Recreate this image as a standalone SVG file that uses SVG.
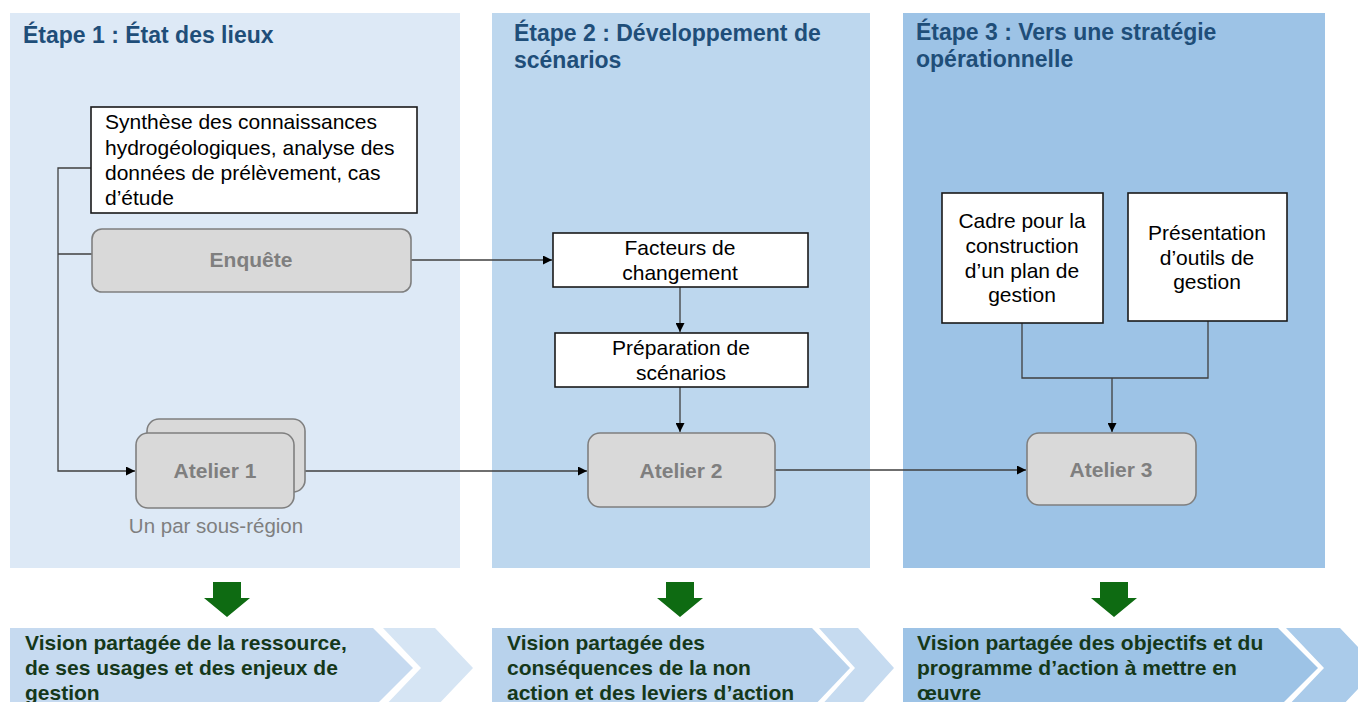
<svg xmlns="http://www.w3.org/2000/svg" width="1358" height="702" viewBox="0 0 1358 702">
<defs>
<style>
text{font-family:"Liberation Sans",Arial,sans-serif}
.title{font-size:23px;font-weight:bold;fill:#1f4e79}
.body{font-size:21px;fill:#000}
.node{font-size:21px;font-weight:bold;fill:#7f7f7f}
.note{font-size:20.5px;fill:#7f7f7f}
.out{font-size:21px;font-weight:bold;fill:#15381a}
.box{fill:#fff;stroke:#1a1a1a;stroke-width:1.6}
.pill{fill:#d9d9d9;stroke:#7f7f7f;stroke-width:1.6}
.conn{fill:none;stroke:#3f3f3f;stroke-width:1.3}
.garrow{fill:#0e6b12}
</style>
<marker id="ah" viewBox="0 0 10 10" refX="10" refY="5" markerWidth="11" markerHeight="9" markerUnits="userSpaceOnUse" orient="auto">
<path d="M0,0 L10,5 L0,10 Z" fill="#000"/>
</marker>
</defs>
<rect width="1358" height="702" fill="#fff"/>

<g id="panels">
<rect x="10" y="13" width="450" height="555" fill="#dde9f6"/>
<rect x="492" y="13" width="378" height="555" fill="#bdd7ee"/>
<rect x="903" y="13" width="422" height="555" fill="#9dc3e6"/>
<text class="title" x="23" y="43">Étape 1 : État des lieux</text>
<text class="title" x="514" y="41">Étape 2 : Développement de</text>
<text class="title" x="514" y="68">scénarios</text>
<text class="title" x="916" y="40">Étape 3 : Vers une stratégie</text>
<text class="title" x="916" y="67">opérationnelle</text>
</g>

<g id="connectors">
<path class="conn" d="M91,168 H58 V471 H135" marker-end="url(#ah)"/>
<path class="conn" d="M58,254 H92"/>
<path class="conn" d="M411,260 H552" marker-end="url(#ah)"/>
<path class="conn" d="M680,287 V332" marker-end="url(#ah)"/>
<path class="conn" d="M680,387 V432" marker-end="url(#ah)"/>
<path class="conn" d="M294,471 H587" marker-end="url(#ah)"/>
<path class="conn" d="M775,470 H1026" marker-end="url(#ah)"/>
<path class="conn" d="M1022,323 V378 H1208 V321"/>
<path class="conn" d="M1112,378 V432" marker-end="url(#ah)"/>
</g>

<g id="synthese">
<rect class="box" x="91" y="107" width="326" height="106"/>
<text class="body" x="105" y="129">Synthèse des connaissances</text>
<text class="body" x="105" y="155">hydrogéologiques, analyse des</text>
<text class="body" x="105" y="180">données de prélèvement, cas</text>
<text class="body" x="105" y="205">d’étude</text>
</g>

<g id="enquete">
<rect class="pill" x="92" y="229" width="319" height="63" rx="10"/>
<text class="node" x="251" y="267" text-anchor="middle">Enquête</text>
</g>

<g id="atelier1">
<rect class="pill" x="147" y="419" width="158" height="73" rx="12"/>
<rect class="pill" x="136" y="433" width="158" height="75" rx="12"/>
<text class="node" x="215" y="478" text-anchor="middle">Atelier 1</text>
<text class="note" x="216" y="533" text-anchor="middle">Un par sous-région</text>
</g>

<g id="facteurs">
<rect class="box" x="553" y="233" width="255" height="54"/>
<text class="body" x="680" y="255" text-anchor="middle">Facteurs de</text>
<text class="body" x="680" y="280" text-anchor="middle">changement</text>
</g>

<g id="preparation">
<rect class="box" x="555" y="333" width="253" height="54"/>
<text class="body" x="681" y="355" text-anchor="middle">Préparation de</text>
<text class="body" x="681" y="380" text-anchor="middle">scénarios</text>
</g>

<g id="atelier2">
<rect class="pill" x="588" y="433" width="187" height="74" rx="12"/>
<text class="node" x="681" y="478" text-anchor="middle">Atelier 2</text>
</g>

<g id="cadre">
<rect class="box" x="942" y="193" width="161" height="130"/>
<text class="body" x="1022" y="228" text-anchor="middle">Cadre pour la</text>
<text class="body" x="1022" y="253" text-anchor="middle">construction</text>
<text class="body" x="1022" y="278" text-anchor="middle">d’un plan de</text>
<text class="body" x="1022" y="302" text-anchor="middle">gestion</text>
</g>

<g id="presentation">
<rect class="box" x="1128" y="193" width="159" height="128"/>
<text class="body" x="1207" y="240" text-anchor="middle">Présentation</text>
<text class="body" x="1207" y="265" text-anchor="middle">d’outils de</text>
<text class="body" x="1207" y="289" text-anchor="middle">gestion</text>
</g>

<g id="atelier3">
<rect class="pill" x="1027" y="433" width="169" height="72" rx="12"/>
<text class="node" x="1111" y="477" text-anchor="middle">Atelier 3</text>
</g>

<g id="green-arrows">
<path class="garrow" d="M213,582 H241 V598 H250 L227,617 L204,598 H213 Z"/>
<path class="garrow" d="M666,582 H694 V598 H703 L680,617 L657,598 H666 Z"/>
<path class="garrow" d="M1100,582 H1128 V598 H1137 L1114,617 L1091,598 H1100 Z"/>
</g>

<g id="outcome1">
<path d="M10,628 H373 L413,668 L373,708 H10 Z" fill="#c6daf0"/>
<path d="M383,628 H435 L473,668 L435,708 H383 L421,668 Z" fill="#d6e5f4"/>
<text class="out" x="25" y="650">Vision partagée de la ressource,</text>
<text class="out" x="25" y="675">de ses usages et des enjeux de</text>
<text class="out" x="25" y="700">gestion</text>
</g>

<g id="outcome2">
<path d="M492,628 H812 L850,668 L812,708 H492 Z" fill="#b8d2ec"/>
<path d="M819,628 H858 L894,668 L858,708 H819 L855,668 Z" fill="#c6dbf0"/>
<text class="out" x="507" y="650">Vision partagée des</text>
<text class="out" x="507" y="675">conséquences de la non</text>
<text class="out" x="507" y="700">action et des leviers d’action</text>
</g>

<g id="outcome3">
<path d="M903,628 H1278 L1318,668 L1278,708 H903 Z" fill="#9dc3e6"/>
<path d="M1286,628 H1340 L1378,668 L1340,708 H1286 L1324,668 Z" fill="#aacbea"/>
<text class="out" x="917" y="650">Vision partagée des objectifs et du</text>
<text class="out" x="917" y="675">programme d’action à mettre en</text>
<text class="out" x="917" y="700">œuvre</text>
</g>
</svg>
